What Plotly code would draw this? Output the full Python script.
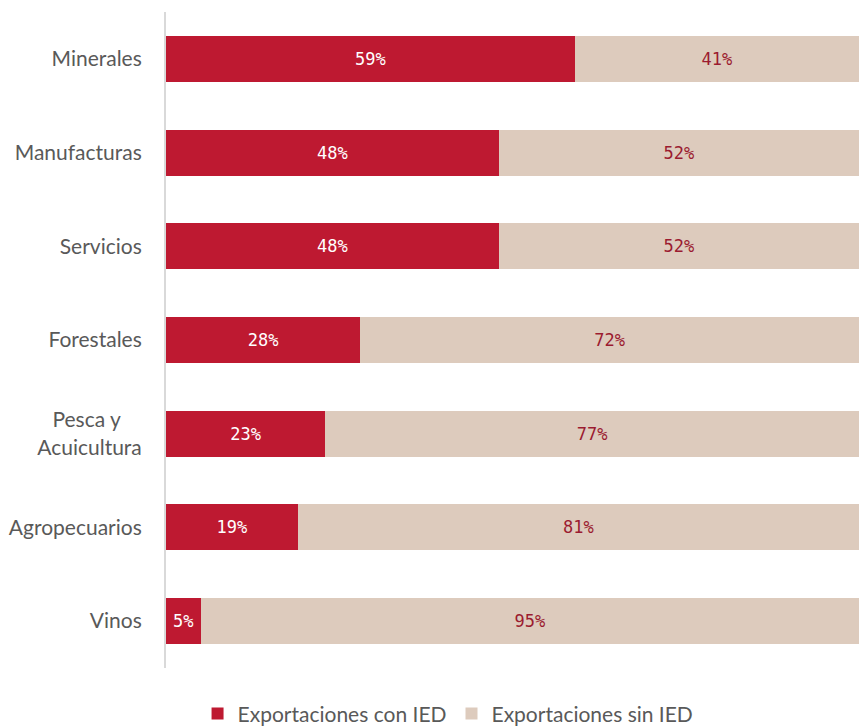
import plotly.graph_objects as go

categorias = ["Minerales", "Manufacturas", "Servicios", "Forestales",
              "Pesca y&nbsp;&nbsp;&nbsp;&nbsp;<br>Acuicultura", "Agropecuarios", "Vinos"]
con_ied = [59, 48, 48, 28, 23, 19, 5]
sin_ied = [41, 52, 52, 72, 77, 81, 95]

ROJO = "#BE1931"
BEIGE = "#DDCBBD"
GRIS = "#595959"
ETIQ = "DejaVu Sans Mono, monospace"

fig = go.Figure()
fig.add_trace(go.Bar(
    y=categorias, x=con_ied, orientation="h",
    name="Exportaciones con IED", marker=dict(color=ROJO, line=dict(width=0)),
    text=[f"{v}%" for v in con_ied], textposition="inside",
    insidetextanchor="middle",
    textfont=dict(color="white", size=17, family=ETIQ),
    width=0.49,
))
fig.add_trace(go.Bar(
    y=categorias, x=sin_ied, orientation="h",
    name="Exportaciones sin IED", marker=dict(color=BEIGE, line=dict(width=0)),
    text=[f"{v}%" for v in sin_ied], textposition="inside",
    insidetextanchor="middle",
    textfont=dict(color="#9B1B30", size=17, family=ETIQ),
    width=0.49,
))

fig.update_layout(
    barmode="stack",
    width=859, height=726,
    margin=dict(l=166, r=0, t=12, b=58, autoexpand=False),
    paper_bgcolor="white", plot_bgcolor="white",
    font=dict(family="Lato", size=21, color=GRIS),
    showlegend=True,
    legend=dict(orientation="h", x=0.407, xanchor="center", y=-0.07, yanchor="middle",
                traceorder="normal", font=dict(size=21, color=GRIS), itemwidth=30),
    uniformtext=dict(mode="show", minsize=10),
)
fig.update_xaxes(range=[0, 100], visible=False, showgrid=False)
fig.update_yaxes(autorange="reversed", showline=True, linecolor="#D9D9D9", linewidth=2,
                 showgrid=False, ticks="", ticklabelstandoff=18, automargin=False,
                 tickfont=dict(size=21, color=GRIS))

fig.write_html("out.html", config={"displayModeBar": False},
               post_script="document.body.style.margin='0';")
